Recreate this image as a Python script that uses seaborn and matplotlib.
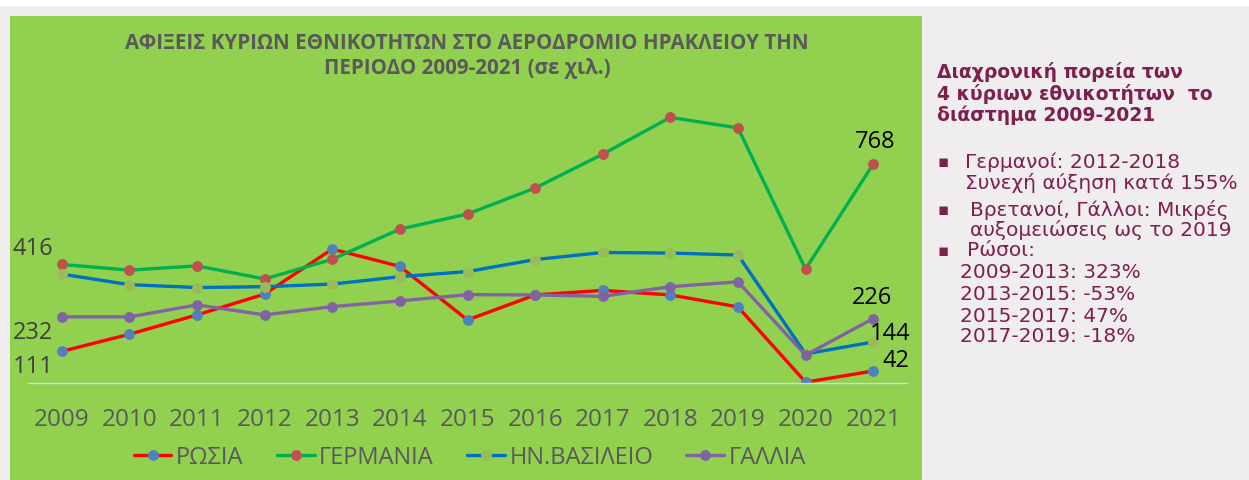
import numpy as np
import pandas as pd
import seaborn as sns
import matplotlib.pyplot as plt
from matplotlib.patches import Rectangle

# data (thousands of arrivals)
years = list(range(2009, 2022))
russia = [111, 171, 239, 312, 470, 409, 221, 309, 325, 309, 267, 3, 42]
germany = [416, 396, 411, 365, 434, 540, 593, 684, 803, 932, 895, 400, 768]
uk = [382, 345, 335, 338, 347, 373, 391, 433, 458, 456, 449, 102, 144]
france = [232, 232, 274, 239, 268, 288, 310, 309, 304, 338, 355, 98, 226]

series_names = ["ΡΩΣΙΑ", "ΓΕΡΜΑΝΙΑ", "ΗΝ.ΒΑΣΙΛΕΙΟ", "ΓΑΛΛΙΑ"]
series_values = [russia, germany, uk, france]
line_colors = ["#FF0000", "#00B050", "#0070C0", "#8064A2"]
marker_colors = ["#4F81BD", "#C0504D", "#9BBB59", "#8064A2"]

title = "ΑΦΙΞΕΙΣ ΚΥΡΙΩΝ ΕΘΝΙΚΟΤΗΤΩΝ ΣΤΟ ΑΕΡΟΔΡΟΜΙΟ ΗΡΑΚΛΕΙΟΥ ΤΗΝ\nΠΕΡΙΟΔΟ 2009-2021 (σε χιλ.)"
panel_head = ["Διαχρονική πορεία των", "4 κύριων εθνικοτήτων  το", "διάστημα 2009-2021"]
panel_lines = [
    (162, 965, "Γερμανοί: 2012-2018", True),
    (183, 965, "Συνεχή αύξηση κατά 155%", False),
    (210, 970, "Βρετανοί, Γάλλοι: Μικρές", True),
    (230, 970, "αυξομειώσεις ως το 2019", False),
    (251, 967, "Ρώσοι:", True),
    (272, 960, "2009-2013: 323%", False),
    (294, 960, "2013-2015: -53%", False),
    (316, 960, "2015-2017: 47%", False),
    (337, 960, "2017-2019: -18%", False),
]

W, H = 1249, 481
sns.set_theme(style="white")
plt.rcParams["font.family"] = ["Open Sans", "DejaVu Sans"]

fig = plt.figure(figsize=(W / 100, H / 100), dpi=100)
fig.patch.set_facecolor("#EFEDEE")


def fx(x):
    return x / W


def fy(y):
    return 1 - y / H


# white strip on top, green chart area
fig.patches.append(Rectangle((0, fy(7)), 1, 7 / H, transform=fig.transFigure,
                             facecolor="white", edgecolor="none", zorder=0))
fig.patches.append(Rectangle((fx(10), 0), fx(922) - fx(10), fy(17), transform=fig.transFigure,
                             facecolor="#92D050", edgecolor="none", zorder=0))

ax = fig.add_axes([fx(28), fy(384), fx(907) - fx(28), (384 - 99) / H])
ax.set_facecolor("none")
ax.set_zorder(3)

df = pd.DataFrame({"year": years})
for name, vals, lc, mc in zip(series_names, series_values, line_colors, marker_colors):
    df[name] = vals
    sns.lineplot(data=df, x="year", y=name, ax=ax, color=lc, linewidth=2.4,
                 marker="o", markersize=7, markerfacecolor=mc, markeredgecolor=mc,
                 label=name, legend=False)

ax.set_xlim(2008.5, 2021.5)
ax.set_ylim(0, 1000)
ax.set_xticks(years)
ax.set_yticks([])
ax.set_xlabel("")
ax.set_ylabel("")
for s in ["top", "left", "right"]:
    ax.spines[s].set_visible(False)
ax.spines["bottom"].set_color("#D9D9D9")
ax.spines["bottom"].set_linewidth(1)
ax.tick_params(axis="x", length=0, pad=17, labelsize=17.5, labelcolor="#595959")

# data labels
lab_style = dict(textcoords="offset pixels", ha="center", va="center", fontsize=17)
ax.annotate("768", (2021, germany[-1]), xytext=(2, 23), color="black", **lab_style)
ax.annotate("226", (2021, france[-1]), xytext=(-1, 22), color="black", **lab_style)
ax.annotate("144", (2021, uk[-1]), xytext=(17, 9), color="black", **lab_style)
ax.annotate("42", (2021, russia[-1]), xytext=(23, 11), color="black", **lab_style)
ax.annotate("416", (2009, germany[0]), xytext=(-29, 16), color="#404040", **lab_style)
ax.annotate("232", (2009, france[0]), xytext=(-29, -15), color="#404040", **lab_style)
ax.annotate("111", (2009, russia[0]), xytext=(-29, -15), color="#404040", **lab_style)

fig.text(fx(467), fy(56), title, ha="center", va="center", fontsize=14.8,
         fontweight="bold", color="#595959", linespacing=1.3)

handles, labels = ax.get_legend_handles_labels()
fig.legend(handles, labels, loc="center", bbox_to_anchor=(fx(470), fy(458)), ncol=4,
           frameon=False, fontsize=17, handlelength=1.6, columnspacing=1.4,
           handletextpad=0.2, labelcolor="#595959")

# right-hand text panel
pc = "#7F1F4F"
for i, line in enumerate(panel_head):
    fig.text(fx(937), fy(72 + i * 21.5), line, ha="left", va="center", fontsize=13.5,
             fontweight="bold", color=pc, family="DejaVu Sans")
for y, x, txt, bullet in panel_lines:
    fig.text(fx(x), fy(y), txt, ha="left", va="center", fontsize=14.5, color=pc,
             family="DejaVu Sans")
    if bullet:
        fig.text(fx(943), fy(y), "\u25aa", ha="center", va="center", fontsize=12,
                 color=pc, family="DejaVu Sans")

fig.savefig("out.png", dpi=100, facecolor=fig.get_facecolor())
